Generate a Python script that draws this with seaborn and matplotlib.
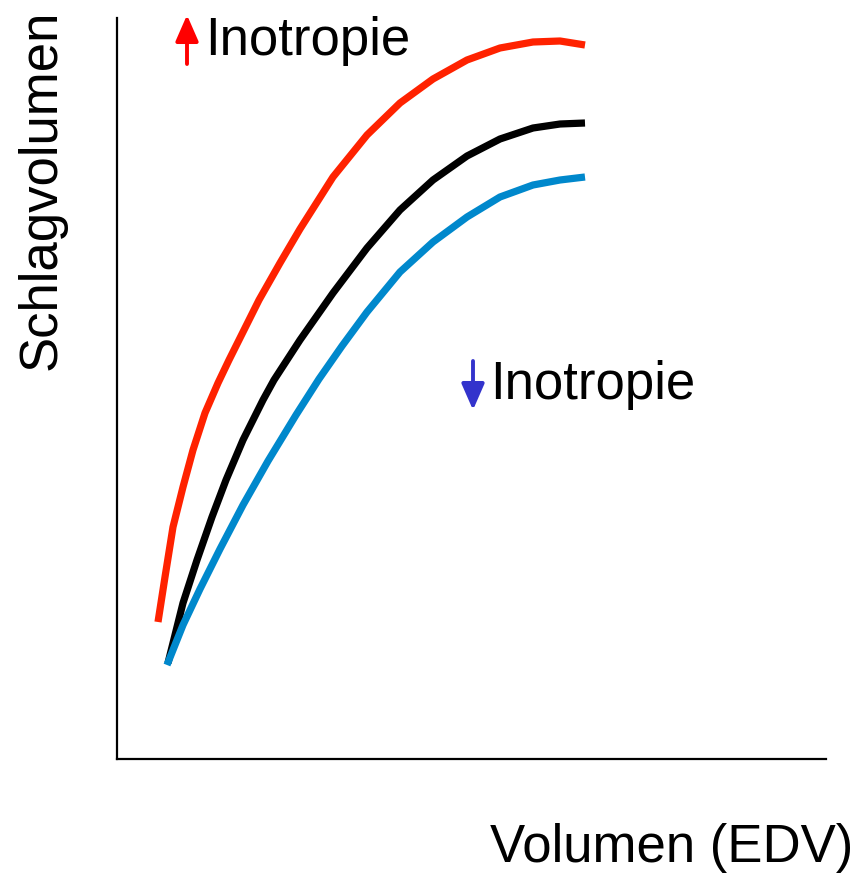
import matplotlib
matplotlib.use("Agg")
import matplotlib.pyplot as plt
import seaborn as sns
import pandas as pd

# --- data (x = EDV, y = stroke volume, arbitrary units) ---
red_x = [41, 48, 56, 66, 76, 88, 101, 112, 122, 142, 163, 183, 216, 250, 283, 316, 350, 383, 416, 443, 468]
red_y = [137, 182, 232, 272, 309, 346, 376, 399, 419, 459, 496, 530, 582, 624, 656, 680, 699, 711, 717, 718, 714]
black_x = [51, 66, 80, 95, 109, 126, 146, 157, 183, 216, 250, 283, 316, 350, 383, 416, 443, 468]
black_y = [96, 156, 199, 242, 279, 319, 359, 379, 419, 466, 511, 549, 579, 603, 620, 631, 635, 636]
blue_x = [50, 66, 83, 103, 126, 151, 179, 202, 225, 250, 283, 316, 350, 383, 416, 443, 468]
blue_y = [94, 134, 170, 210, 254, 298, 344, 380, 413, 447, 487, 517, 542, 562, 574, 579, 582]

series_names = ["hoch", "normal", "niedrig"]
series_colors = ["#ff2200", "#000000", "#0088cc"]
label_up = "Inotropie"
label_down = "Inotropie"
x_label = "Volumen (EDV)"
y_label = "Schlagvolumen"

frames = []
for name, xs, ys in zip(series_names, [red_x, black_x, blue_x], [red_y, black_y, blue_y]):
    frames.append(pd.DataFrame({"x": xs, "y": ys, "s": name}))
df = pd.concat(frames, ignore_index=True)

sns.set_theme(style="white")
plt.rcParams["font.family"] = ["Liberation Sans", "DejaVu Sans"]

W, H = 861, 874
fig = plt.figure(figsize=(W / 100, H / 100), dpi=100)
ax = fig.add_axes([117 / W, (H - 759) / H, 709 / W, 741 / H])

sns.lineplot(data=df, x="x", y="y", hue="s", palette=dict(zip(series_names, series_colors)),
             sort=False, estimator=None, units="s", linewidth=5.2, legend=False, ax=ax)
for ln in ax.lines:
    ln.set_solid_joinstyle("round")
    ln.set_solid_capstyle("butt")

ax.set_xlim(0, 709)
ax.set_ylim(0, 741)
ax.set_xticks([])
ax.set_yticks([])
ax.set_xlabel("")
ax.set_ylabel("")
for side in ["top", "right"]:
    ax.spines[side].set_visible(False)
for side in ["left", "bottom"]:
    ax.spines[side].set_color("black")
    ax.spines[side].set_linewidth(1.6)

fs = 38
ax.text(205 - 117, 759 - 55, label_up, fontsize=fs, ha="left", va="baseline", color="black")
ax.text(490 - 117, 759 - 399, label_down, fontsize=fs, ha="left", va="baseline", color="black")

arrow_kw = dict(arrowstyle="-|>,head_length=0.8,head_width=0.35", lw=2.8, shrinkA=0, shrinkB=0,
                mutation_scale=20)
ax.annotate("", xy=(187 - 117, 759 - 15), xytext=(187 - 117, 759 - 64),
            arrowprops=dict(color="#ff0000", **arrow_kw), annotation_clip=False)
ax.annotate("", xy=(473 - 117, 759 - 410), xytext=(473 - 117, 759 - 361),
            arrowprops=dict(color="#3333cc", **arrow_kw), annotation_clip=False)

fig.text(853 / W, 1 - 862 / H, x_label, fontsize=fs, ha="right", va="baseline", color="black")
fig.text(42 / W, 1 - 190 / H, y_label, fontsize=fs, ha="center", va="center", rotation=90,
         color="black")

fig.savefig("out.png", dpi=100, facecolor="white")
